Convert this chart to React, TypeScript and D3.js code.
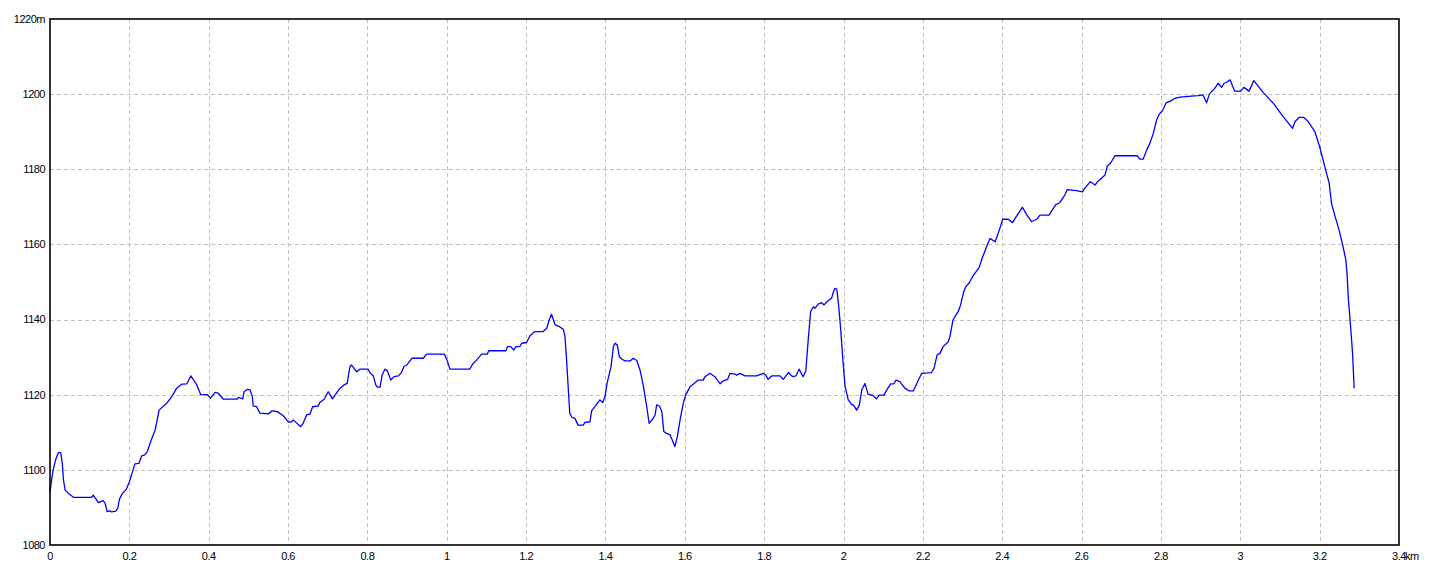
import React from "react";
import * as d3 from "d3";

const distKm: number[] = [
  0.000, 0.004, 0.008, 0.014, 0.021, 0.027, 0.031, 0.034, 0.038, 0.046,
  0.059, 0.105, 0.109, 0.122, 0.134, 0.139, 0.144, 0.151, 0.155, 0.166,
  0.171, 0.175, 0.183, 0.192, 0.200, 0.214, 0.224, 0.231, 0.239, 0.245,
  0.255, 0.265, 0.275, 0.294, 0.307, 0.319, 0.332, 0.345, 0.350, 0.355,
  0.360, 0.370, 0.380, 0.397, 0.405, 0.416, 0.424, 0.437, 0.471, 0.475,
  0.486, 0.489, 0.497, 0.504, 0.510, 0.512, 0.521, 0.529, 0.550, 0.560,
  0.573, 0.588, 0.601, 0.609, 0.613, 0.632, 0.638, 0.647, 0.655, 0.662,
  0.676, 0.680, 0.691, 0.701, 0.712, 0.729, 0.741, 0.749, 0.752, 0.756,
  0.760, 0.773, 0.781, 0.802, 0.806, 0.815, 0.821, 0.825, 0.832, 0.837,
  0.844, 0.850, 0.859, 0.867, 0.878, 0.886, 0.892, 0.899, 0.912, 0.941,
  0.949, 0.994, 1.000, 1.008, 1.058, 1.065, 1.075, 1.088, 1.102, 1.106,
  1.149, 1.153, 1.161, 1.169, 1.174, 1.184, 1.189, 1.201, 1.210, 1.222,
  1.243, 1.252, 1.258, 1.264, 1.273, 1.284, 1.294, 1.298, 1.302, 1.306,
  1.310, 1.315, 1.323, 1.331, 1.344, 1.348, 1.361, 1.365, 1.378, 1.386,
  1.393, 1.399, 1.404, 1.414, 1.420, 1.424, 1.430, 1.435, 1.441, 1.449,
  1.462, 1.470, 1.479, 1.487, 1.495, 1.504, 1.510, 1.519, 1.525, 1.529,
  1.536, 1.542, 1.547, 1.554, 1.563, 1.575, 1.581, 1.588, 1.596, 1.602,
  1.613, 1.621, 1.634, 1.646, 1.651, 1.663, 1.676, 1.689, 1.697, 1.708,
  1.714, 1.726, 1.731, 1.739, 1.752, 1.781, 1.798, 1.804, 1.810, 1.819,
  1.840, 1.848, 1.861, 1.872, 1.880, 1.888, 1.898, 1.905, 1.911, 1.917,
  1.924, 1.928, 1.936, 1.945, 1.951, 1.961, 1.970, 1.974, 1.978, 1.983,
  1.988, 1.993, 1.999, 2.004, 2.012, 2.021, 2.025, 2.033, 2.040, 2.046,
  2.054, 2.062, 2.073, 2.083, 2.090, 2.102, 2.109, 2.119, 2.127, 2.132,
  2.142, 2.155, 2.166, 2.176, 2.187, 2.197, 2.222, 2.228, 2.236, 2.243,
  2.251, 2.264, 2.268, 2.276, 2.283, 2.289, 2.295, 2.303, 2.308, 2.317,
  2.325, 2.331, 2.342, 2.348, 2.359, 2.369, 2.382, 2.390, 2.396, 2.401,
  2.415, 2.426, 2.434, 2.451, 2.461, 2.474, 2.487, 2.495, 2.518, 2.525,
  2.535, 2.545, 2.558, 2.564, 2.587, 2.602, 2.608, 2.622, 2.634, 2.641,
  2.646, 2.659, 2.665, 2.673, 2.684, 2.740, 2.747, 2.755, 2.764, 2.772,
  2.781, 2.789, 2.796, 2.804, 2.813, 2.827, 2.835, 2.848, 2.869, 2.894,
  2.906, 2.915, 2.922, 2.936, 2.944, 2.953, 2.959, 2.965, 2.974, 2.986,
  3.001, 3.009, 3.022, 3.034, 3.058, 3.083, 3.108, 3.132, 3.138, 3.148,
  3.160, 3.171, 3.188, 3.200, 3.213, 3.224, 3.230, 3.238, 3.249, 3.258,
  3.266, 3.269, 3.272, 3.278, 3.283, 3.287,
];

const elevationM: number[] = [
  1094.0, 1097.3, 1100.0, 1102.6, 1104.6, 1104.6, 1101.7, 1097.3, 1094.6, 1093.8,
  1092.7, 1092.7, 1093.3, 1091.3, 1091.8, 1091.1, 1088.9, 1089.1, 1088.8, 1089.0,
  1089.8, 1092.2, 1093.8, 1094.8, 1096.8, 1101.6, 1101.7, 1103.7, 1104.0, 1104.8,
  1107.9, 1110.6, 1115.9, 1117.7, 1119.5, 1121.7, 1122.8, 1122.9, 1124.0, 1125.0,
  1124.2, 1122.6, 1120.0, 1120.0, 1119.1, 1120.6, 1120.4, 1118.8, 1118.8, 1119.3,
  1118.9, 1120.8, 1121.4, 1121.3, 1119.5, 1117.0, 1116.8, 1115.1, 1114.9, 1115.7,
  1115.5, 1114.4, 1112.7, 1112.8, 1113.3, 1111.5, 1112.4, 1114.7, 1114.8, 1116.8,
  1117.0, 1117.9, 1118.8, 1120.8, 1118.9, 1121.5, 1122.6, 1123.0, 1125.0, 1127.5,
  1127.9, 1126.1, 1126.8, 1126.8, 1125.9, 1125.0, 1122.6, 1122.0, 1122.0, 1125.2,
  1126.8, 1126.4, 1123.9, 1124.8, 1125.0, 1125.9, 1127.5, 1127.9, 1129.7, 1129.7,
  1130.8, 1130.8, 1129.4, 1126.8, 1126.8, 1128.1, 1129.2, 1130.8, 1130.8, 1131.7,
  1131.7, 1132.8, 1132.8, 1131.9, 1132.8, 1132.8, 1133.7, 1133.9, 1135.7, 1136.8,
  1136.8, 1137.7, 1139.9, 1141.4, 1138.6, 1138.1, 1137.4, 1135.4, 1129.2, 1122.1,
  1115.1, 1114.0, 1113.7, 1111.9, 1111.9, 1112.6, 1112.8, 1115.7, 1117.5, 1118.6,
  1117.9, 1119.5, 1123.0, 1127.5, 1132.8, 1133.7, 1133.2, 1130.1, 1129.5, 1129.0,
  1129.0, 1129.7, 1129.1, 1126.6, 1122.6, 1116.8, 1112.4, 1113.5, 1114.6, 1117.3,
  1117.0, 1115.5, 1110.2, 1109.7, 1109.3, 1106.2, 1108.8, 1113.3, 1117.7, 1119.9,
  1122.1, 1122.8, 1123.9, 1123.9, 1124.8, 1125.7, 1124.8, 1122.9, 1123.7, 1124.1,
  1125.7, 1125.5, 1125.2, 1125.7, 1125.0, 1125.0, 1125.7, 1125.2, 1124.1, 1125.0,
  1125.0, 1124.1, 1125.9, 1124.8, 1125.0, 1126.8, 1124.8, 1126.4, 1134.6, 1142.1,
  1143.4, 1143.0, 1144.1, 1144.5, 1143.9, 1145.0, 1145.7, 1147.2, 1148.3, 1148.1,
  1143.4, 1137.2, 1128.4, 1122.1, 1118.6, 1117.3, 1117.3, 1115.9, 1117.3, 1121.3,
  1123.0, 1120.1, 1119.9, 1118.9, 1119.9, 1119.9, 1121.3, 1122.9, 1122.9, 1123.9,
  1123.5, 1121.7, 1121.0, 1121.0, 1123.5, 1125.7, 1125.9, 1127.0, 1130.6, 1131.0,
  1132.8, 1134.1, 1135.4, 1139.9, 1141.2, 1142.1, 1143.9, 1147.4, 1148.7, 1149.8,
  1151.4, 1152.3, 1153.9, 1155.9, 1159.0, 1161.6, 1160.7, 1163.0, 1164.9, 1166.7,
  1166.7, 1165.8, 1167.2, 1169.9, 1168.0, 1166.1, 1166.7, 1167.8, 1167.8, 1169.0,
  1170.6, 1171.1, 1173.2, 1174.6, 1174.3, 1174.0, 1174.9, 1176.7, 1175.8, 1176.8,
  1177.2, 1178.5, 1180.9, 1181.6, 1183.6, 1183.6, 1182.7, 1182.7, 1185.1, 1186.9,
  1189.6, 1193.1, 1194.7, 1195.6, 1197.7, 1198.3, 1198.9, 1199.2, 1199.4, 1199.6,
  1199.8, 1197.7, 1200.0, 1201.6, 1202.9, 1201.8, 1202.9, 1203.1, 1203.8, 1200.8,
  1200.8, 1201.8, 1200.8, 1203.6, 1200.4, 1197.6, 1194.0, 1190.9, 1192.7, 1193.8,
  1193.8, 1192.7, 1190.0, 1186.0, 1180.7, 1176.3, 1170.9, 1167.8, 1163.8, 1159.9,
  1155.9, 1152.3, 1146.1, 1138.1, 1131.0, 1121.7,
];

const xTicks: number[] = [0, 0.2, 0.4, 0.6, 0.8, 1, 1.2, 1.4, 1.6, 1.8, 2, 2.2, 2.4, 2.6, 2.8, 3, 3.2, 3.4];
const yTicks: number[] = [1080, 1100, 1120, 1140, 1160, 1180, 1200, 1220];

const W = 1440;
const H = 576;
const left = 50;
const right = 1399;
const top = 19;
const bottom = 545;

export default function App() {
  const x = d3.scaleLinear().domain([0, 3.4]).range([left, right]);
  const y = d3.scaleLinear().domain([1080, 1220]).range([bottom, top]);
  const pts: [number, number][] = distKm.map((d, i) => [d, elevationM[i]]);
  const line = d3
    .line<[number, number]>()
    .x((d) => x(d[0]))
    .y((d) => y(d[1]));
  const font = "'Liberation Sans', Arial, sans-serif";
  const lastX = xTicks[xTicks.length - 1];
  const lastY = yTicks[yTicks.length - 1];
  return (
    <svg
      width={W}
      height={H}
      style={{ position: "absolute", left: 0, top: 0, background: "#fff" }}
    >
      <rect x={0} y={0} width={W} height={H} fill="#fff" />
      {xTicks.slice(1, -1).map((t) => (
        <line
          key={"gx" + t}
          x1={Math.round(x(t)) + 0.5}
          x2={Math.round(x(t)) + 0.5}
          y1={top}
          y2={bottom}
          stroke="#c0c0c0"
          strokeWidth={1}
          strokeDasharray="4,3"
        />
      ))}
      {yTicks.slice(1, -1).map((t) => (
        <line
          key={"gy" + t}
          x1={left}
          x2={right}
          y1={Math.round(y(t)) + 0.5}
          y2={Math.round(y(t)) + 0.5}
          stroke="#c0c0c0"
          strokeWidth={1}
          strokeDasharray="4,3"
        />
      ))}
      <path
        d={line(pts) || ""}
        fill="none"
        stroke="#0000ff"
        strokeWidth={1.3}
        strokeLinejoin="round"
      />
      <rect
        x={left}
        y={top}
        width={right - left}
        height={bottom - top}
        fill="none"
        stroke="#000"
        strokeWidth={1.6}
      />
      {yTicks.map((t) => (
        <text
          key={"ty" + t}
          x={45}
          y={y(t) + 1}
          textAnchor="end"
          dominantBaseline="middle"
          fontFamily={font}
          fontSize={11}
          letterSpacing={-0.5}
          fill="#000"
        >
          {t === lastY ? `${t}m` : `${t}`}
        </text>
      ))}
      {xTicks.map((t) => (
        <text
          key={"tx" + t}
          x={x(t)}
          y={557}
          textAnchor="middle"
          dominantBaseline="middle"
          fontFamily={font}
          fontSize={11}
          letterSpacing={-0.5}
          fill="#000"
        >
          {d3.format("~g")(t)}
        </text>
      ))}
      <text
        x={x(lastX) + 6}
        y={557}
        textAnchor="start"
        dominantBaseline="middle"
        fontFamily={font}
        fontSize={11}
        letterSpacing={-0.5}
        fill="#000"
      >
        km
      </text>
    </svg>
  );
}
